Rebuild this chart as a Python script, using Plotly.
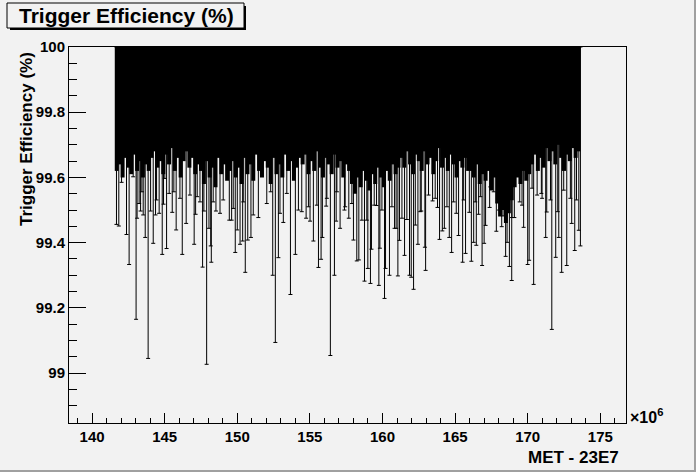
import plotly.graph_objects as go

# MET values in units of 1e6, efficiencies in %
# dense block: bins every 0.2 from 141.7, lower edge of the error bar
dense_start = 141.7
dense_step = 0.2
dense_low = [
    99.62, 99.64, 99.60, 99.66, 99.63, 99.61, 99.67, 99.62, 99.65, 99.60, 99.64, 99.62,
    99.66, 99.68, 99.63, 99.65, 99.61, 99.67, 99.64, 99.69, 99.62, 99.66, 99.60, 99.65,
    99.68, 99.63, 99.66, 99.61, 99.64,
    99.62, 99.58, 99.65, 99.60, 99.63, 99.57, 99.66, 99.61, 99.64, 99.59, 99.62,
    99.65, 99.60, 99.63, 99.58, 99.66, 99.61, 99.64, 99.59, 99.67, 99.62, 99.60, 99.65,
    99.63, 99.58, 99.66, 99.61, 99.64, 99.60, 99.67, 99.62, 99.65, 99.59, 99.63, 99.66,
    99.64, 99.67, 99.61, 99.65, 99.62, 99.68, 99.63, 99.60, 99.66, 99.64, 99.61, 99.67,
    99.63, 99.65, 99.60, 99.64, 99.62,
    99.58, 99.55, 99.60, 99.57, 99.62, 99.59, 99.56, 99.61, 99.58, 99.63, 99.60, 99.57,
    99.62, 99.59, 99.64, 99.61, 99.63,
    99.66, 99.63, 99.68, 99.64, 99.61, 99.67, 99.65, 99.62, 99.68, 99.64, 99.66, 99.61,
    99.65, 99.69, 99.63, 99.66, 99.62, 99.67, 99.64, 99.60, 99.65, 99.63, 99.66, 99.62,
    99.62, 99.60, 99.64, 99.58, 99.61, 99.59, 99.62, 99.56, 99.60, 99.52, 99.48, 99.50,
    99.46, 99.49, 99.53, 99.57, 99.60, 99.58, 99.62, 99.59, 99.61,
    99.64, 99.67, 99.62, 99.66, 99.63, 99.69, 99.65, 99.68, 99.64, 99.70, 99.66, 99.62,
    99.67, 99.65, 99.69, 99.66, 99.68,
]

# bins whose lower error ends a little below the dense block
mid_met = [
    142.03, 142.83, 143.24, 143.43, 144.44, 145.01, 145.31, 145.63, 146.05, 146.74,
    147.24, 147.43, 148.34, 149.03,
    149.72, 150.41, 151.10, 152.03, 152.30, 152.94, 153.41, 154.21, 154.44, 154.90,
    155.48, 156.17, 156.86, 157.43,
    157.89, 158.58, 158.92, 159.43, 159.96, 160.65, 160.94, 161.34, 162.26, 162.60,
    163.17, 163.63, 164.44, 164.90, 165.59,
    166.39, 166.74, 167.43, 167.66, 168.30, 168.92, 169.45, 169.61, 170.30, 170.65,
    170.99, 171.57, 172.07, 172.48, 172.94, 173.36,
]
mid_low = [
    99.585, 99.602, 99.520, 99.556, 99.531, 99.597, 99.551, 99.556, 99.536, 99.546,
    99.541, 99.525, 99.525, 99.531,
    99.505, 99.525, 99.485, 99.520, 99.556, 99.490, 99.551, 99.500, 99.495, 99.510,
    99.515, 99.536, 99.556, 99.510,
    99.520, 99.469, 99.469, 99.515, 99.500, 99.510, 99.444, 99.475, 99.454, 99.495,
    99.546, 99.536, 99.510, 99.525, 99.531,
    99.525, 99.541, 99.571, 99.556, 99.482, 99.477, 99.525, 99.515, 99.567, 99.546,
    99.536, 99.531, 99.495, 99.561, 99.536, 99.531,
]

# individual bins whose lower error reaches further down
long_met = [
    141.68, 141.84, 142.37, 142.55, 143.03, 143.10, 143.34, 143.52, 143.66, 143.86,
    144.03, 144.21, 144.37, 144.62, 144.83, 144.92, 145.13, 145.52, 145.79, 146.21,
    146.48, 147.03, 147.13, 147.61, 147.70, 147.89, 148.05, 148.17, 148.21, 148.53,
    148.81, 149.45,
    149.61, 149.86, 150.00, 150.19, 150.37, 150.55, 150.72, 150.94, 151.45, 152.44,
    152.62, 152.83, 153.17, 153.66, 154.00, 154.74, 155.01, 155.24, 155.59, 155.77,
    155.86, 156.12, 156.41, 156.69, 156.81, 157.08, 157.38, 157.68,
    158.00, 158.23, 158.37, 158.76, 158.99, 159.17, 159.24, 159.59, 159.75, 159.82,
    160.14, 160.21, 160.48, 160.83, 161.06, 161.17, 161.52, 161.68, 161.86, 161.98,
    162.14, 162.44, 162.67, 162.92, 162.97, 163.45, 163.79, 163.93, 164.12, 164.26,
    164.60, 164.76, 165.08, 165.24, 165.52, 165.72, 165.98,
    166.12, 166.28, 166.46, 166.62, 166.86, 167.00, 167.10, 167.38, 167.84, 168.03,
    168.21, 168.48, 168.58, 168.74, 168.90, 169.08, 169.72, 170.00, 170.10, 170.41,
    170.94, 171.24, 171.31, 171.66, 171.93, 172.14, 172.34, 172.69, 173.03, 173.24,
    173.52, 173.63,
]
long_low = [
    99.456, 99.451, 99.425, 99.333, 99.165, 99.475, 99.497, 99.485, 99.416, 99.045,
    99.497, 99.398, 99.485, 99.490, 99.364, 99.518, 99.382, 99.493, 99.439, 99.364,
    99.459, 99.395, 99.487, 99.325, 99.497, 99.027, 99.444, 99.390, 99.340, 99.497,
    99.490, 99.469,
    99.469, 99.370, 99.439, 99.395, 99.405, 99.309, 99.408, 99.416, 99.477, 99.300,
    99.094, 99.354, 99.462, 99.241, 99.364, 99.475, 99.466, 99.405, 99.324, 99.349,
    99.416, 99.512, 99.054, 99.300, 99.466, 99.444, 99.500, 99.475,
    99.408, 99.344, 99.347, 99.282, 99.321, 99.275, 99.380, 99.514, 99.269, 99.383,
    99.229, 99.321, 99.300, 99.444, 99.298, 99.407, 99.361, 99.471, 99.300, 99.294,
    99.257, 99.395, 99.497, 99.386, 99.315, 99.528, 99.508, 99.410, 99.436, 99.444,
    99.416, 99.370, 99.490, 99.422, 99.340, 99.367, 99.493,
    99.343, 99.401, 99.392, 99.487, 99.330, 99.398, 99.453, 99.508, 99.435, 99.500,
    99.449, 99.358, 99.401, 99.327, 99.284, 99.477, 99.447, 99.333, 99.346, 99.272,
    99.551, 99.416, 99.494, 99.134, 99.355, 99.416, 99.309, 99.330, 99.459, 99.376,
    99.438, 99.390,
]

x_ticks = [140, 145, 150, 155, 160, 165, 170, 175]
x_labels = ["140", "145", "150", "155", "160", "165", "170", "175"]
y_ticks = [99, 99.2, 99.4, 99.6, 99.8, 100]
y_labels = ["99", "99.2", "99.4", "99.6", "99.8", "100"]

BG = "#f2f2f2"
FONT = "Liberation Sans, Arial, Helvetica, sans-serif"

# plot frame in pixels
L, R, T, B = 69, 626, 47, 423
W, H = 696, 472


def px(xp):
    return (xp - L) / (R - L)


def py(yp):
    return (B - yp) / (B - T)


def eff_trace(met, low, thickness, width):
    return go.Scatter(
        x=met, y=[100] * len(met), mode="markers",
        marker=dict(size=1, color="rgba(0,0,0,0)"),
        error_y=dict(type="data", symmetric=False, array=[0] * len(met),
                     arrayminus=[100 - v for v in low],
                     color="black", thickness=thickness, width=width),
        showlegend=False, hoverinfo="skip",
    )


dense_met = [round(dense_start + dense_step * i, 2) for i in range(len(dense_low))]

fig = go.Figure()
fig.add_trace(eff_trace(dense_met, dense_low, 4, 0))
fig.add_trace(eff_trace(mid_met, mid_low, 1, 2))
fig.add_trace(eff_trace(long_met, long_low, 1, 2))

tickfont = dict(family=FONT, size=15, color="black", weight="bold")
fig.update_xaxes(
    range=[138.41, 176.77], showline=True, linecolor="black", linewidth=1, mirror=True,
    ticks="inside", ticklen=10, tickcolor="black", tickwidth=1,
    tickmode="array", tickvals=x_ticks, ticktext=x_labels,
    minor=dict(ticks="inside", ticklen=5, tickmode="linear", tick0=0, dtick=1, tickcolor="black"),
    showgrid=False, zeroline=False, tickfont=tickfont,
)
fig.update_yaxes(
    range=[98.847, 100.0], showline=True, linecolor="black", linewidth=1, mirror=True,
    ticks="inside", ticklen=17, tickcolor="black", tickwidth=1,
    tickmode="array", tickvals=y_ticks, ticktext=y_labels,
    minor=dict(ticks="inside", ticklen=8, tickmode="linear", tick0=99, dtick=0.05, tickcolor="black"),
    showgrid=False, zeroline=False, tickfont=tickfont,
)

shapes = [
    # canvas bevel
    dict(type="rect", xref="paper", yref="paper", x0=px(0), x1=px(W), y0=py(H - 2), y1=py(H),
         fillcolor="#a0a0a0", line_width=0, layer="below"),
    dict(type="rect", xref="paper", yref="paper", x0=px(W - 2), x1=px(W), y0=py(H), y1=py(0),
         fillcolor="#a0a0a0", line_width=0, layer="below"),
    # title box shadow + box
    dict(type="rect", xref="paper", yref="paper", x0=px(10), x1=px(246), y0=py(30), y1=py(6),
         fillcolor="black", line_width=0),
    dict(type="rect", xref="paper", yref="paper", x0=px(7), x1=px(244), y0=py(28), y1=py(3),
         fillcolor=BG, line=dict(color="black", width=1)),
]

annotations = [
    dict(text="Trigger Efficiency (%)", xref="paper", yref="paper", x=px(126), y=py(15),
         xanchor="center", yanchor="middle", showarrow=False,
         font=dict(family=FONT, size=21, color="black", weight="bold")),
    dict(text="Trigger Efficiency (%)", xref="paper", yref="paper", x=px(26), y=py(50),
         xanchor="center", yanchor="top", textangle=-90, showarrow=False,
         font=dict(family=FONT, size=17, color="black", weight="bold")),
    dict(text="MET - 23E7", xref="paper", yref="paper", x=px(621), y=py(457),
         xanchor="right", yanchor="middle", showarrow=False,
         font=dict(family=FONT, size=17, color="black", weight="bold")),
    dict(text="×10<sup>6</sup>", xref="paper", yref="paper", x=px(628), y=py(416),
         xanchor="left", yanchor="middle", showarrow=False,
         font=dict(family=FONT, size=16, color="black", weight="bold")),
]

fig.update_layout(
    width=W, height=H,
    margin=dict(l=L, r=W - R, t=T, b=H - B),
    paper_bgcolor=BG, plot_bgcolor=BG,
    shapes=shapes, annotations=annotations,
    showlegend=False,
)

fig.write_html("out.html", config={"displayModeBar": False},
               post_script="document.body.style.margin='0';document.body.style.background='#f2f2f2';")
